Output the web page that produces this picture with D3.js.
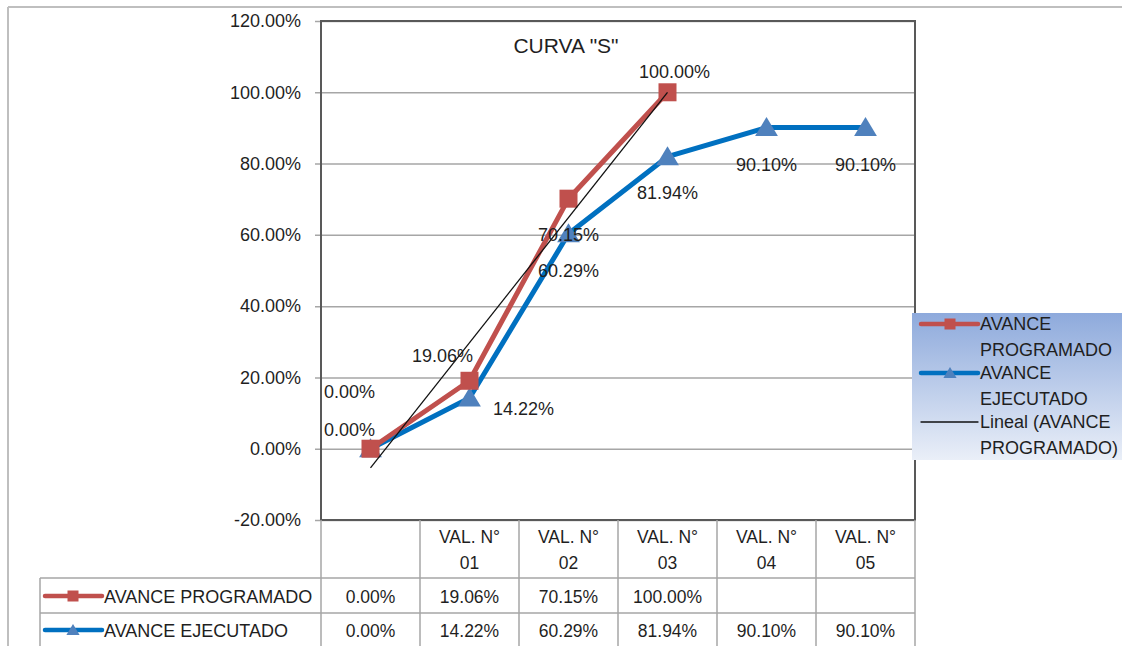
<!doctype html>
<html>
<head>
<meta charset="UTF-8">
<title>CURVA "S"</title>
<script src="https://d3js.org/d3.v7.min.js"></script>
<style>
  body { margin: 0; background: #fff; }
  text { font-family: "Liberation Sans", Arial, sans-serif; fill: #1f1f1f; }
</style>
</head>
<body>
<svg id="chart" width="1122" height="646"></svg>
<script>
// datos del grafico
var categorias = ["", "VAL. N° 01", "VAL. N° 02", "VAL. N° 03", "VAL. N° 04", "VAL. N° 05"];
var programado = [0, 0.1906, 0.7015, 1.0];
var ejecutado = [0, 0.1422, 0.6029, 0.8194, 0.901, 0.901];
var ticksY = [-0.2, 0, 0.2, 0.4, 0.6, 0.8, 1.0, 1.2];
var nombres = ["AVANCE PROGRAMADO", "AVANCE EJECUTADO", "Lineal (AVANCE PROGRAMADO)"];

var rojo = "#c0504d", azulLinea = "#0070c0", azulMarca = "#4f81bd";

var loc = d3.formatLocale({decimal: ".", thousands: ",", grouping: [3], currency: ["$", ""], minus: "-"});
var pct = loc.format(".2%");

var svg = d3.select("#chart");
var izq = 321, der = 915, arriba = 21, abajo = 520;
var fs = "18px";

var x = d3.scaleBand().domain(categorias).range([izq, der]);
var y = d3.scaleLinear().domain([-0.2, 1.2]).range([abajo, arriba]);
var cx = function (i) { return x(categorias[i]) + x.bandwidth() / 2; };

// marco exterior
svg.append("line").attr("x1", 8).attr("y1", 7).attr("x2", 1122).attr("y2", 7)
  .attr("stroke", "#bfbfbf").attr("stroke-width", 2);
svg.append("line").attr("x1", 8).attr("y1", 7).attr("x2", 8).attr("y2", 646)
  .attr("stroke", "#bfbfbf").attr("stroke-width", 2);

// grilla y eje Y
var ejeY = d3.axisLeft(y).tickValues(ticksY).tickFormat(pct)
  .tickSize(der - izq + 6).tickPadding(14);
var gY = svg.append("g").attr("transform", "translate(" + der + ",0)").call(ejeY);
gY.select(".domain").remove();
gY.selectAll("line").attr("stroke", "#a6a6a6").attr("stroke-width", 1.5);
gY.selectAll("text").style("font-size", fs).style("fill", "#1f1f1f")
  .style("font-family", "'Liberation Sans', Arial, sans-serif");

// borde del area de trazado
svg.append("rect").attr("x", izq).attr("y", arriba).attr("width", der - izq).attr("height", abajo - arriba)
  .attr("fill", "none").attr("stroke", "#595959").attr("stroke-width", 2);

// titulo
svg.append("text").attr("x", 566).attr("y", 53).attr("text-anchor", "middle")
  .style("font-size", "21px").text('CURVA "S"');

// tabla de datos
var tabla = svg.append("g").attr("stroke", "#a6a6a6").attr("stroke-width", 1.5);
var filaY = [abajo, 578, 613, 646];
categorias.forEach(function (c, i) {
  tabla.append("line").attr("x1", x(c)).attr("x2", x(c)).attr("y1", abajo).attr("y2", 646);
});
tabla.append("line").attr("x1", der).attr("x2", der).attr("y1", abajo).attr("y2", 646);
tabla.append("line").attr("x1", 40).attr("x2", 40).attr("y1", filaY[1]).attr("y2", 646);
tabla.append("line").attr("x1", 40).attr("x2", der).attr("y1", filaY[1]).attr("y2", filaY[1]);
tabla.append("line").attr("x1", 40).attr("x2", der).attr("y1", filaY[2]).attr("y2", filaY[2]);

categorias.forEach(function (c, i) {
  if (!c) return;
  var k = c.lastIndexOf(" ");
  var t = svg.append("text").attr("text-anchor", "middle").style("font-size", "17.5px");
  t.append("tspan").attr("x", cx(i)).attr("y", 543).text(c.slice(0, k));
  t.append("tspan").attr("x", cx(i)).attr("y", 569).text(c.slice(k + 1));
});

function marcador(g, tipo, px, py, s, color) {
  if (tipo === "cuadro") {
    g.append("rect").attr("x", px - s / 2).attr("y", py - s / 2).attr("width", s).attr("height", s).attr("fill", color);
  } else if (tipo === "triangulo") {
    g.append("path").attr("d", "M" + px + "," + (py - s * 0.55) + "L" + (px + s * 0.6) + "," + (py + s * 0.45) +
      "L" + (px - s * 0.6) + "," + (py + s * 0.45) + "Z").attr("fill", color);
  }
}

var series = [
  {datos: programado, nombre: nombres[0], linea: rojo, marca: rojo, tipo: "cuadro", fy: 597},
  {datos: ejecutado, nombre: nombres[1], linea: azulLinea, marca: azulMarca, tipo: "triangulo", fy: 631}
];

series.forEach(function (s) {
  var g = svg.append("g");
  g.append("line").attr("x1", 45).attr("x2", 102).attr("y1", s.fy - 1).attr("y2", s.fy - 1)
    .attr("stroke", s.linea).attr("stroke-width", 4.5).attr("stroke-linecap", "round");
  marcador(g, s.tipo, 73, s.fy - 1, 11, s.marca);
  g.append("text").attr("x", 104).attr("y", s.fy + 6).style("font-size", fs).text(s.nombre);
  categorias.forEach(function (c, i) {
    if (i < s.datos.length) {
      g.append("text").attr("x", cx(i)).attr("y", s.fy + 6).attr("text-anchor", "middle")
        .style("font-size", "17.5px").text(pct(s.datos[i]));
    }
  });
});

// lineas de las series
var linea = d3.line().x(function (d, i) { return cx(i); }).y(function (d) { return y(d); });

svg.append("path").datum(ejecutado).attr("d", linea).attr("fill", "none")
  .attr("stroke", azulLinea).attr("stroke-width", 5).attr("stroke-linejoin", "round");
ejecutado.forEach(function (v, i) { marcador(svg, "triangulo", cx(i), y(v), 19, azulMarca); });

svg.append("path").datum(programado).attr("d", linea).attr("fill", "none")
  .attr("stroke", rojo).attr("stroke-width", 5).attr("stroke-linejoin", "round");
programado.forEach(function (v, i) { marcador(svg, "cuadro", cx(i), y(v), 18, rojo); });

// linea de tendencia (regresion lineal sobre AVANCE PROGRAMADO)
var xs = programado.map(function (d, i) { return i + 1; });
var mx = d3.mean(xs), my = d3.mean(programado);
var sxy = d3.sum(xs, function (v, i) { return (v - mx) * (programado[i] - my); });
var sxx = d3.sum(xs, function (v) { return (v - mx) * (v - mx); });
var pend = sxy / sxx, inter = my - pend * mx;
svg.append("line")
  .attr("x1", cx(0)).attr("y1", y(inter + pend * 1))
  .attr("x2", cx(programado.length - 1)).attr("y2", y(inter + pend * programado.length))
  .attr("stroke", "#111").attr("stroke-width", 1.3);

// etiquetas de datos (desplazamientos como en el original)
var despProg = [[-21, -51], [-27, -19], [0, 42], [7, -14]];
var despEjec = [[-21, -13], [54, 17], [0, 43], [0, 42], [0, 43], [0, 43]];
programado.forEach(function (v, i) {
  svg.append("text").attr("x", cx(i) + despProg[i][0]).attr("y", y(v) + despProg[i][1])
    .attr("text-anchor", "middle").style("font-size", fs).text(pct(v));
});
ejecutado.forEach(function (v, i) {
  svg.append("text").attr("x", cx(i) + despEjec[i][0]).attr("y", y(v) + despEjec[i][1])
    .attr("text-anchor", "middle").style("font-size", fs).text(pct(v));
});

// leyenda
var defs = svg.append("defs");
var grad = defs.append("linearGradient").attr("id", "fondoLeyenda").attr("x1", 0).attr("y1", 0).attr("x2", 0).attr("y2", 1);
grad.append("stop").attr("offset", "0%").attr("stop-color", "#8eaadc");
grad.append("stop").attr("offset", "100%").attr("stop-color", "#eaeff8");
var ley = svg.append("g").attr("transform", "translate(912,313)");
ley.append("rect").attr("width", 210).attr("height", 147).attr("fill", "url(#fondoLeyenda)");
var itemsLey = [
  {lineas: ["AVANCE", "PROGRAMADO"], color: rojo, marca: rojo, tipo: "cuadro", ancho: 4.5},
  {lineas: ["AVANCE", "EJECUTADO"], color: azulLinea, marca: azulMarca, tipo: "triangulo", ancho: 4.5},
  {lineas: ["Lineal (AVANCE", "PROGRAMADO)"], color: "#111", marca: null, tipo: null, ancho: 1.3}
];
itemsLey.forEach(function (it, k) {
  var yy = 11 + k * 49;
  ley.append("line").attr("x1", 9).attr("x2", 66).attr("y1", yy).attr("y2", yy)
    .attr("stroke", it.color).attr("stroke-width", it.ancho).attr("stroke-linecap", "round");
  if (it.tipo) marcador(ley, it.tipo, 38, yy, 11, it.marca);
  it.lineas.forEach(function (l, j) {
    ley.append("text").attr("x", 68).attr("y", yy + 6 + j * 26).style("font-size", fs).text(l);
  });
});
</script>
</body>
</html>
